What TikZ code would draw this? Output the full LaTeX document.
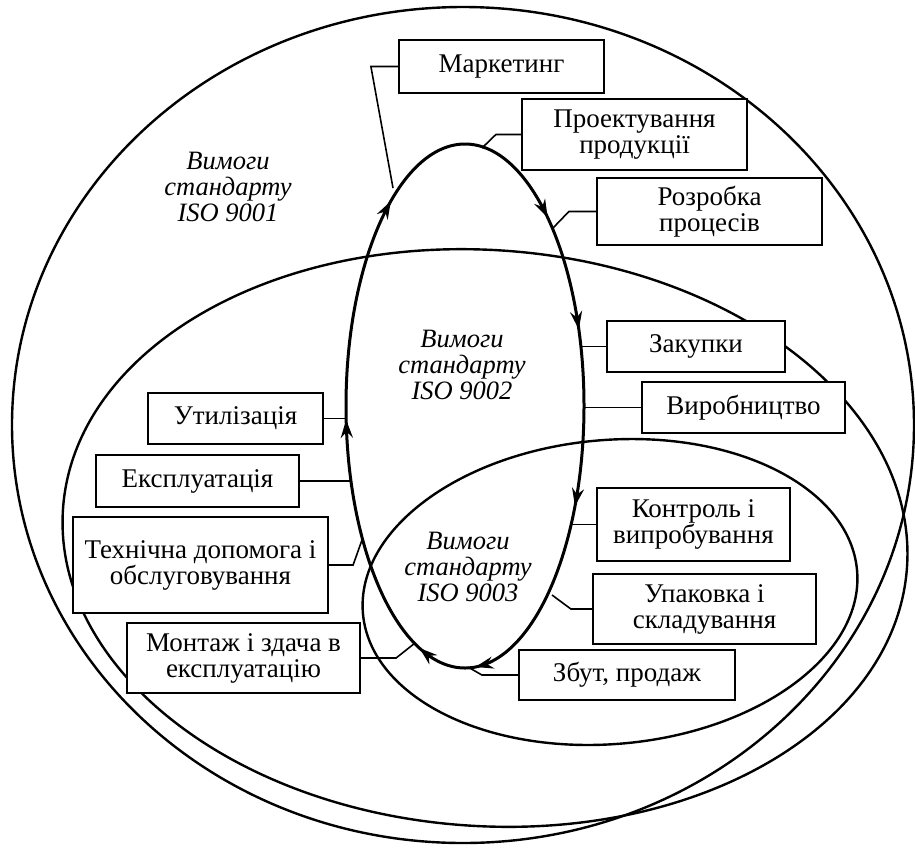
\documentclass[tikz,border=0pt]{standalone}
\usepackage{fontspec}
\setmainfont{Liberation Serif}
\usetikzlibrary{arrows.meta}

\begin{document}
\begin{tikzpicture}[x=1pt, y=-1pt,
		zone/.style={line width=2.4pt},
		cycle/.style={line width=3pt},
		cycletip/.style={-{Stealth[length=18pt, width=12pt, inset=6pt]}, line width=3pt},
		procbox/.style={draw, line width=2.2pt, fill=white, align=center, inner sep=0pt, font=\fontsize{27}{26}\selectfont},
		zonelabel/.style={align=center, font=\itshape\fontsize{26.5}{26}\selectfont},
		link/.style={line width=1.6pt}]
		\useasboundingbox (0,0) rectangle (915,847);
		
		\draw[zone] (463,425) ellipse [x radius=451, y radius=418];
		\draw[zone, rotate around={-4:(485,538)}] (485,538) ellipse [x radius=423, y radius=288];
		\draw[zone, rotate around={5:(610,592)}] (610,592) ellipse [x radius=248, y radius=152];
		
		\draw[cycle] (465,406) ellipse [x radius=119, y radius=262];
		\foreach \a in {22.5, 85, 112.5, 177, 231.5, 314, 343}
			\draw[cycletip] ({465+119*cos(\a-3)}, {406+262*sin(\a-3)}) -- ({465+119*cos(\a)}, {406+262*sin(\a)});
		
		\coordinate (mktin) at (393,188);
		\coordinate (desin) at (482,148);
		\coordinate (prcin) at (553,228);
		\coordinate (pckin) at (552,595);
		\coordinate (salin) at (468,667);
		\coordinate (mntin) at (415,643);
		\coordinate (srvin) at (362,540);
		
		\node[procbox, minimum width=205, minimum height=53] (marketing) at (501.5,66.5) {Маркетинг};
		\node[procbox, minimum width=225, minimum height=71] (design) at (634.5,134.5) {Проектування\\продукції};
		\node[procbox, minimum width=225, minimum height=67] (process) at (709.5,211.5) {Розробка\\процесів};
		\node[procbox, minimum width=178, minimum height=51] (purchase) at (696,346.5) {Закупки};
		\node[procbox, minimum width=203, minimum height=51] (production) at (743.5,407.5) {Виробництво};
		\node[procbox, minimum width=193, minimum height=73] (testing) at (693.5,524.5) {Контроль і\\випробування};
		\node[procbox, minimum width=223, minimum height=70] (packing) at (704.5,609) {Упаковка і\\складування};
		\node[procbox, minimum width=216, minimum height=50] (sales) at (627,675) {Збут, продаж};
		\node[procbox, minimum width=233, minimum height=70] (mounting) at (243.5,658) {Монтаж і здача в\\експлуатацію};
		\node[procbox, minimum width=175, minimum height=51] (disposal) at (235.5,418.5) {Утилізація};
		\node[procbox, minimum width=203, minimum height=52] (operation) at (197.5,481) {Експлуатація};
		\node[procbox, minimum width=255, minimum height=96] (service) at (200.5,565) {Технічна допомога і\\обслуговування};
		
		\draw[link] (marketing.west) -- ++(-27,0) -- (mktin);
		\draw[link] (design.west) -- ++(-25,0) -- (desin);
		\draw[link] (process.west) -- ++(-27,0) -- (prcin);
		\draw[link] (purchase.west) -- ++(-26,0);
		\draw[link] (production.west) -- ++(-58,0);
		\draw[link] (testing.west) -- ++(-26,0);
		\draw[link] (packing.west) -- ++(-21,0) -- (pckin);
		\draw[link] (sales.west) -- ++(-36,0) -- (salin);
		\draw[link] (mounting.east) -- ++(35,0) -- (mntin);
		\draw[link] (disposal.east) -- ++(23,0);
		\draw[link] (operation.east) -- ++(52,0);
		\draw[link] (service.east) -- ++(24,0) -- (srvin);
		
		\node[zonelabel] (iso1) at (228,187) {Вимоги\\стандарту\\ISO 9001};
		\node[zonelabel] (iso2) at (462,365) {Вимоги\\стандарту\\ISO 9002};
		\node[zonelabel] (iso3) at (468,567) {Вимоги\\стандарту\\ISO 9003};
	\end{tikzpicture}
\end{document}
